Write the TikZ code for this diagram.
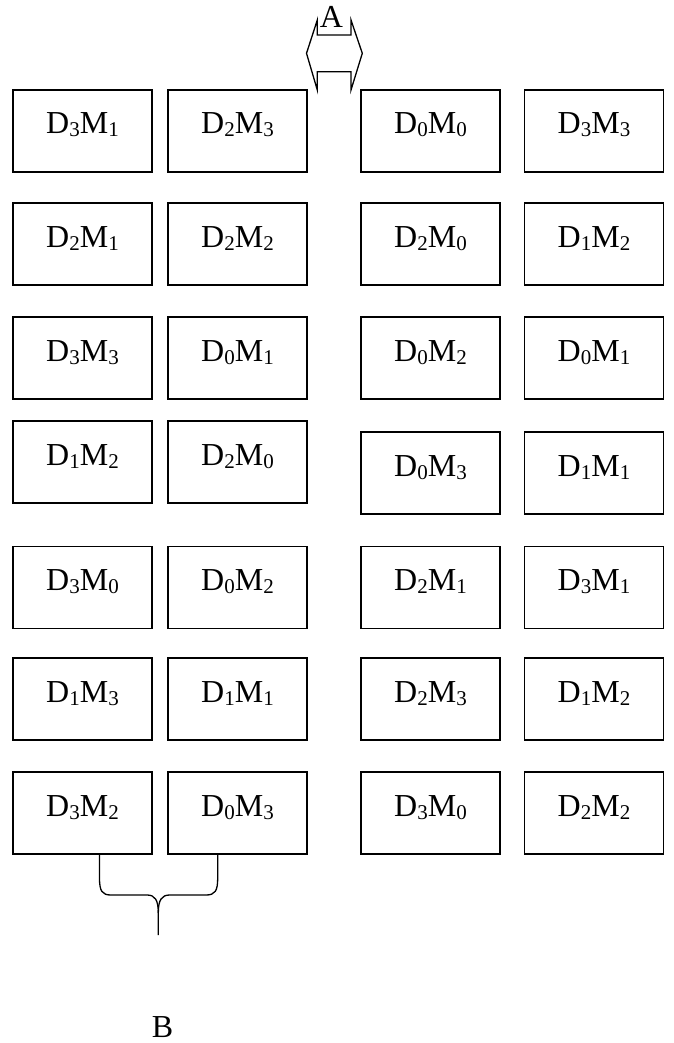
\documentclass[tikz,border=0pt]{standalone}
\usepackage{fontspec}
\setmainfont{Liberation Serif}
\newcommand\sbs[1]{\raisebox{-3pt}{\fontsize{21}{21}\selectfont #1}}
\newcommand\dm[2]{D\sbs{#1}M\sbs{#2}}
\begin{document}
\begin{tikzpicture}[x=1pt,y=-1pt,
  cell/.style={draw, line width=1.3pt, minimum width=139pt, minimum height=82pt,
    inner sep=0pt, text height=13pt, text depth=7pt, font=\fontsize{32}{36}\selectfont},
  lbl/.style={inner sep=0pt, anchor=base, font=\fontsize{32}{36}\selectfont},
  ln/.style={line width=1.3pt, line join=miter}]
\useasboundingbox (0,0) rectangle (673,1043);
% column 1
\node[cell] (a1) at (82.5,131) {\dm{3}{1}};
\node[cell] (a2) at (82.5,244) {\dm{2}{1}};
\node[cell] (a3) at (82.5,358) {\dm{3}{3}};
\node[cell] (a4) at (82.5,462) {\dm{1}{2}};
\node[cell] (a5) at (82.5,587.5) {\dm{3}{0}};
\node[cell] (a6) at (82.5,699) {\dm{1}{3}};
\node[cell] (a7) at (82.5,813) {\dm{3}{2}};
% column 2
\node[cell] (b1) at (237.5,131) {\dm{2}{3}};
\node[cell] (b2) at (237.5,244) {\dm{2}{2}};
\node[cell] (b3) at (237.5,358) {\dm{0}{1}};
\node[cell] (b4) at (237.5,462) {\dm{2}{0}};
\node[cell] (b5) at (237.5,587.5) {\dm{0}{2}};
\node[cell] (b6) at (237.5,699) {\dm{1}{1}};
\node[cell] (b7) at (237.5,813) {\dm{0}{3}};
% column 3
\node[cell] (c1) at (430.5,131) {\dm{0}{0}};
\node[cell] (c2) at (430.5,244) {\dm{2}{0}};
\node[cell] (c3) at (430.5,358) {\dm{0}{2}};
\node[cell] (c4) at (430.5,473) {\dm{0}{3}};
\node[cell] (c5) at (430.5,587.5) {\dm{2}{1}};
\node[cell] (c6) at (430.5,699) {\dm{2}{3}};
\node[cell] (c7) at (430.5,813) {\dm{3}{0}};
% column 4
\node[cell] (d1) at (594,131) {\dm{3}{3}};
\node[cell] (d2) at (594,244) {\dm{1}{2}};
\node[cell] (d3) at (594,358) {\dm{0}{1}};
\node[cell] (d4) at (594,473) {\dm{1}{1}};
\node[cell] (d5) at (594,587.5) {\dm{3}{1}};
\node[cell] (d6) at (594,699) {\dm{1}{2}};
\node[cell] (d7) at (594,813) {\dm{2}{2}};
% top double arrow A
\draw[ln] (317.3,20) -- (317.3,35) -- (351,35) -- (351,20) -- (362.3,53.3) -- (351,90)
  -- (351,71.7) -- (317.3,71.7) -- (317.3,90) -- (306.5,53.3) -- cycle;
\node[lbl] (A) at (331.5,28) {A};
% bottom brace
\coordinate (bl) at (99.5,854);
\coordinate (br) at (217.7,854);
\coordinate (tip) at (158.3,935);
\draw[ln] (bl) -- (99.5,878) .. controls (99.5,891) and (102,895) .. (111,895) -- (147,895)
  .. controls (155,895) and (158.3,900) .. (158.3,913) -- (tip);
\draw[ln] (158.3,913) .. controls (158.3,900) and (161.6,895) .. (169.6,895) -- (206,895)
  .. controls (215,895) and (217.7,891) .. (217.7,878) -- (br);
\node[lbl] (B) at (162.5,1037) {B};
\end{tikzpicture}
\end{document}
